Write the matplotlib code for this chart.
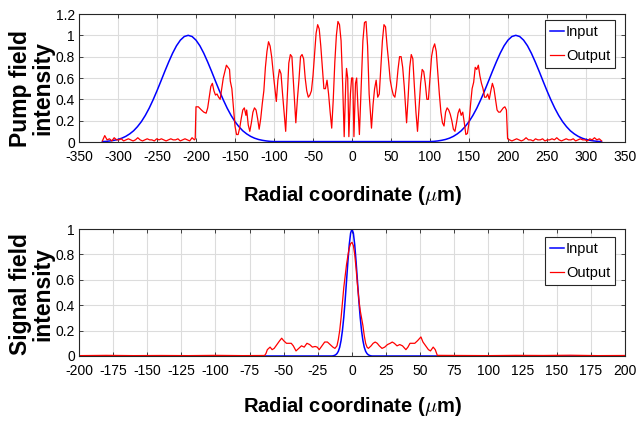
import numpy as np
import matplotlib
matplotlib.use("Agg")
import matplotlib.pyplot as plt
from matplotlib.ticker import FormatStrFormatter

plt.rcParams['font.family'] = ['Liberation Sans Narrow', 'Liberation Sans', 'DejaVu Sans']
plt.rcParams['axes.unicode_minus'] = False
plt.rcParams['mathtext.fontset'] = 'cm'

# ---- pump field (top) ----
pump_in_x = [-320, -315, -310, -305, -300, -295, -290, -285, -280, -275, -270, -265,
             -260, -255, -250, -245, -240, -235, -230, -225, -220, -215, -210, -205,
             -200, -195, -190, -185, -180, -175, -170, -165, -160, -155, -150, -145,
             -140, -135, -130, -125, -120, -115, -110, -105, -100,
             100, 105, 110, 115, 120, 125, 130, 135, 140, 145, 150, 155, 160, 165, 170,
             175, 180, 185, 190, 195, 200, 205, 210, 215, 220, 225, 230, 235, 240, 245,
             250, 255, 260, 265, 270, 275, 280, 285, 290, 295, 300, 305, 310, 315, 320]
pump_in_y = [0.004, 0.006, 0.010, 0.016, 0.024, 0.036, 0.053, 0.076, 0.105, 0.144, 0.191, 0.249,
             0.317, 0.395, 0.480, 0.570, 0.662, 0.750, 0.832, 0.902, 0.955, 0.989, 1.000, 0.989,
             0.955, 0.902, 0.832, 0.750, 0.662, 0.570, 0.480, 0.395, 0.317, 0.249, 0.191, 0.144,
             0.105, 0.076, 0.053, 0.036, 0.024, 0.016, 0.010, 0.006, 0.004,
             0.004, 0.006, 0.010, 0.016, 0.024, 0.036, 0.053, 0.076, 0.105, 0.144, 0.191,
             0.249, 0.317, 0.395, 0.480, 0.570, 0.662, 0.750, 0.832, 0.902, 0.955, 0.989,
             1.000, 0.989, 0.955, 0.902, 0.832, 0.750, 0.662, 0.570, 0.480, 0.395, 0.317,
             0.249, 0.191, 0.144, 0.105, 0.076, 0.053, 0.036, 0.024, 0.016, 0.010, 0.006, 0.004]

# low noise floor outside the ring
pump_noise_left = [0.01, 0.06, 0.02, 0.03, 0.01, 0.04, 0.02, 0.02, 0.03, 0.01, 0.02, 0.03, 0.02,
                   0.01, 0.02, 0.04, 0.02, 0.01, 0.02, 0.03, 0.02, 0.02, 0.01, 0.03, 0.02, 0.03,
                   0.02, 0.01, 0.02, 0.03, 0.02, 0.02, 0.03, 0.01, 0.02, 0.03, 0.02, 0.01, 0.04, 0.02]
pump_noise_right = [0.02, 0.01, 0.02, 0.03, 0.02, 0.01, 0.02, 0.04, 0.02, 0.02, 0.01, 0.03, 0.02,
                    0.02, 0.03, 0.01, 0.02, 0.02, 0.03, 0.02, 0.04, 0.02, 0.01, 0.02, 0.03, 0.02,
                    0.02, 0.03, 0.01, 0.02, 0.03, 0.02, 0.02, 0.01, 0.03, 0.02, 0.04, 0.02, 0.03, 0.01]

pump_out_x = [-201, -200, -197, -193, -190, -187, -185, -183, -181, -179, -177, -175, -173, -171,
              -169, -167, -165, -163, -161, -159, -157, -156, -154, -152, -150, -148, -146, -144,
              -142, -140, -138, -136, -135, -133, -131, -129, -127, -125, -123, -121, -119, -117,
              -115, -113, -111, -109, -107, -105, -103, -100, -97, -95, -93, -91, -89, -87, -85,
              -83, -81, -79, -77, -75, -72, -70, -68, -66, -64, -62, -60, -58, -56, -54, -52, -50,
              -48, -46, -44, -42, -40, -38, -36, -34, -32, -30, -28, -26, -24, -22, -20, -18, -16,
              -14, -12, -10, -8, -7, -5.5, -4, -2, -0.5, 1, 2.5, 4.5, 6, 7.5, 9.5, 12, 14, 16, 18,
              20, 22, 25, 27, 29, 31, 33, 35, 37, 39, 41, 43, 45, 47, 49, 51, 53, 55, 57, 59, 61,
              63, 65, 67, 70, 72, 74, 76, 78, 80, 82, 84, 86, 88, 90, 92, 94, 96, 98, 100, 102,
              104, 106, 108, 110, 112, 114, 116, 118, 120, 122, 124, 126, 128, 130, 132, 134, 136,
              138, 140, 142, 144, 146, 148, 150, 152, 154, 156, 158, 160, 162, 164, 166, 168, 170,
              172, 174, 176, 178, 180, 182, 184, 186, 188, 190, 192, 194, 196, 198, 199.5]
pump_out_y = [0.03, 0.33, 0.33, 0.30, 0.28, 0.27, 0.32, 0.42, 0.52, 0.55, 0.48, 0.44, 0.45, 0.42,
              0.40, 0.50, 0.60, 0.66, 0.72, 0.70, 0.68, 0.57, 0.50, 0.32, 0.15, 0.07, 0.07, 0.13,
              0.22, 0.30, 0.32, 0.25, 0.30, 0.16, 0.10, 0.18, 0.28, 0.32, 0.30, 0.22, 0.12, 0.22,
              0.36, 0.48, 0.70, 0.85, 0.94, 0.90, 0.80, 0.58, 0.38, 0.58, 0.68, 0.64, 0.45, 0.28, 0.10,
              0.42, 0.74, 0.82, 0.80, 0.55, 0.18, 0.40, 0.58, 0.80, 0.82, 0.78, 0.60, 0.48, 0.42,
              0.44, 0.48, 0.62, 0.82, 1.02, 1.10, 1.06, 0.90, 0.70, 0.50, 0.50, 0.58, 0.45, 0.28,
              0.13, 0.40, 0.75, 1.00, 1.13, 1.10, 0.95, 0.55, 0.05, 0.55, 0.69, 0.60, 0.05, 0.45,
              0.60, 0.60, 0.05, 0.55, 0.60, 0.35, 0.07, 0.55, 0.95, 1.12, 1.13, 0.90, 0.45, 0.13,
              0.35, 0.50, 0.58, 0.42, 0.45, 0.70, 0.95, 1.10, 1.08, 0.90, 0.75, 0.58, 0.50, 0.44,
              0.42, 0.52, 0.68, 0.80, 0.80, 0.70, 0.52, 0.18, 0.42, 0.70, 0.82, 0.78, 0.52, 0.28,
              0.10, 0.32, 0.55, 0.68, 0.66, 0.55, 0.40, 0.40, 0.60, 0.80, 0.88, 0.92, 0.85, 0.65,
              0.45, 0.28, 0.18, 0.15, 0.28, 0.32, 0.30, 0.26, 0.20, 0.12, 0.10, 0.18, 0.27, 0.31,
              0.25, 0.28, 0.18, 0.07, 0.08, 0.18, 0.35, 0.50, 0.56, 0.70, 0.68, 0.72, 0.62, 0.55,
              0.50, 0.42, 0.42, 0.45, 0.40, 0.48, 0.55, 0.50, 0.40, 0.30, 0.28, 0.28, 0.30, 0.32,
              0.33, 0.30, 0.03]

# ---- signal field (bottom) ----
sig_in_x = [-200, -15, -14, -13, -12, -11, -10, -9, -8, -7, -6, -5, -4, -3, -2, -1, 0,
            1, 2, 3, 4, 5, 6, 7, 8, 9, 10, 11, 12, 13, 14, 15, 200]
sig_in_y = [0, 0, 0.001, 0.004, 0.009, 0.019, 0.037, 0.069, 0.122, 0.200, 0.306, 0.440, 0.591,
            0.743, 0.877, 0.968, 1.0, 0.968, 0.877, 0.743, 0.591, 0.440, 0.306, 0.200, 0.122,
            0.069, 0.037, 0.019, 0.009, 0.004, 0.001, 0, 0]

sig_out_x = [-200, -180, -160, -140, -120, -100, -80, -64, -63, -62, -60, -58.5, -57, -55, -53,
             -51.5, -50, -48, -46, -44.5, -43, -41, -39, -37, -35, -33, -31, -29, -27, -25.5, -24,
             -22, -20, -18, -16, -14, -12.5, -11, -10, -9, -8, -7, -6, -5, -4, -3, -2, -1, 0,
             1, 2, 3, 4, 5, 6, 7, 8, 9, 10, 11, 12, 14, 15.5, 17, 18.5, 20, 22, 24, 26, 28, 29.5,
             31, 33, 35, 37, 39.5, 41, 42.5, 44.5, 46, 48, 50.5, 52, 54, 56, 57.5, 59.5, 61, 62.5,
             80, 100, 120, 140, 160, 180, 200]
sig_out_y = [0.003, 0.005, 0.003, 0.004, 0.003, 0.005, 0.003, 0.004, 0.02, 0.05, 0.07, 0.05, 0.06,
             0.09, 0.12, 0.14, 0.12, 0.10, 0.10, 0.10, 0.08, 0.04, 0.06, 0.08, 0.07, 0.10, 0.09,
             0.07, 0.075, 0.07, 0.05, 0.08, 0.11, 0.11, 0.09, 0.07, 0.06, 0.08, 0.13, 0.20, 0.30,
             0.42, 0.54, 0.63, 0.72, 0.79, 0.85, 0.885, 0.895, 0.87, 0.80, 0.69, 0.56, 0.45, 0.36,
             0.30, 0.24, 0.16, 0.10, 0.07, 0.06, 0.08, 0.10, 0.11, 0.10, 0.08, 0.06, 0.07, 0.09,
             0.10, 0.11, 0.10, 0.08, 0.09, 0.08, 0.05, 0.07, 0.10, 0.10, 0.10, 0.12, 0.15, 0.11,
             0.08, 0.05, 0.04, 0.07, 0.05, 0.005, 0.004, 0.003, 0.005, 0.004, 0.006, 0.003, 0.004]

pump_xticks = list(range(-350, 351, 50))
pump_yticks = [0, 0.2, 0.4, 0.6, 0.8, 1, 1.2]
sig_xticks = list(range(-200, 201, 25))
sig_yticks = [0, 0.2, 0.4, 0.6, 0.8, 1]

YLAB_FONT = ['Liberation Sans', 'DejaVu Sans']


def style_axes(ax):
    ax.grid(True, color='#dcdcdc', linewidth=0.8)
    ax.set_axisbelow(True)
    for s in ax.spines.values():
        s.set_color('#262626')
        s.set_linewidth(0.8)
    ax.tick_params(direction='in', top=True, right=True, length=3, width=0.6,
                   labelsize=10, colors='#262626', labelcolor='black')
    ax.tick_params(axis='x', pad=6)
    ax.tick_params(axis='y', pad=3)
    ax.yaxis.set_major_formatter(FormatStrFormatter('%g'))


def add_legend(ax, y):
    leg = ax.legend(loc='upper right', bbox_to_anchor=(0.982, y), borderaxespad=0,
                    fontsize=10.5, handlelength=1.0, handletextpad=0.1, labelspacing=0.7,
                    borderpad=0.35, fancybox=False, framealpha=1, edgecolor='#262626')
    leg.get_frame().set_linewidth(0.8)


fig = plt.figure(figsize=(6.38, 4.23), dpi=100)
ax1 = fig.add_axes([0.1238, 0.6643, 0.8558, 0.3026])
ax2 = fig.add_axes([0.1238, 0.1584, 0.8558, 0.3002])

# top panel
noise_left_x = np.linspace(-320, -202, len(pump_noise_left))
noise_right_x = np.linspace(202, 320, len(pump_noise_right))
out_x = np.concatenate([noise_left_x, pump_out_x, noise_right_x])
out_y = np.concatenate([pump_noise_left, pump_out_y, pump_noise_right])
ax1.plot(pump_in_x, pump_in_y, color='#0000ff', lw=1.1, label='Input')
ax1.plot(out_x, out_y, color='#ff0000', lw=0.9, label='Output')
ax1.set_xlim(-350, 350)
ax1.set_ylim(0, 1.2)
ax1.set_xticks(pump_xticks)
ax1.set_yticks(pump_yticks)
style_axes(ax1)
ax1.set_xlabel(r'Radial coordinate ($\mu$m)', fontsize=14.5, fontweight='bold', labelpad=14)
ax1.set_ylabel('Pump field\nintensity', fontsize=16.5, fontweight='bold',
               family=YLAB_FONT, linespacing=0.95)
ax1.yaxis.set_label_coords(-0.045, 0.42)
add_legend(ax1, 0.953)

# bottom panel
ax2.plot(sig_in_x, sig_in_y, color='#0000ff', lw=1.1, label='Input')
ax2.plot(sig_out_x, sig_out_y, color='#ff0000', lw=0.9, label='Output')
ax2.set_xlim(-200, 200)
ax2.set_ylim(0, 1)
ax2.set_xticks(sig_xticks)
ax2.set_yticks(sig_yticks)
style_axes(ax2)
ax2.set_xlabel(r'Radial coordinate ($\mu$m)', fontsize=14.5, fontweight='bold', labelpad=12)
ax2.set_ylabel('Signal field\nintensity', fontsize=16.5, fontweight='bold',
               family=YLAB_FONT, linespacing=0.95)
ax2.yaxis.set_label_coords(-0.045, 0.49)
add_legend(ax2, 0.937)

fig.savefig('out.png', dpi=100)
